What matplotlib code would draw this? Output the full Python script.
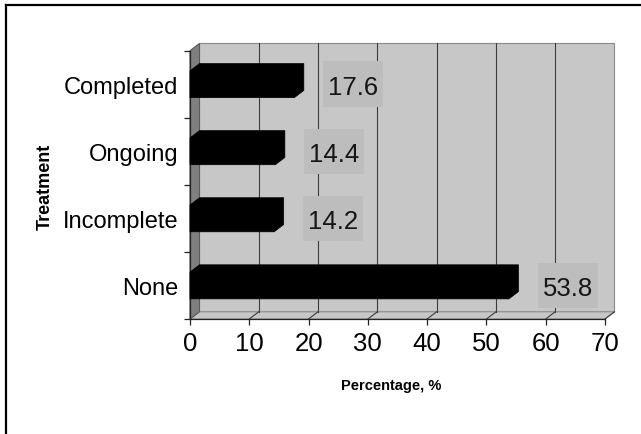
import matplotlib
matplotlib.use("Agg")
import matplotlib.pyplot as plt
from matplotlib.patches import Polygon, Rectangle
from matplotlib.lines import Line2D

# Data
categories = ["None", "Incomplete", "Ongoing", "Completed"]
percentages = [53.8, 14.2, 14.4, 17.6]
x_ticks = [0, 10, 20, 30, 40, 50, 60, 70]
x_label = "Percentage, %"
y_label = "Treatment"

plt.rcParams["font.family"] = ["Liberation Sans", "DejaVu Sans"]

W, H = 641, 435
fig = plt.figure(figsize=(W / 100, H / 100), dpi=100)
fig.patch.set_facecolor("white")

# front plane of the plot area, in pixels
left_px, right_px, top_px, bottom_px = 190, 605, 51.7, 320
ax = fig.add_axes([left_px / W, 1 - bottom_px / H,
                   (right_px - left_px) / W, (bottom_px - top_px) / H])
ax.patch.set_visible(False)

xmin, xmax = x_ticks[0], x_ticks[-1]
ymin, ymax = -0.5, len(categories) - 0.5
ax.set_xlim(xmin, xmax)
ax.set_ylim(ymin, ymax)

# depth of the pseudo-3D box, in data units
dx, dy = 1.6, 0.108

wall_c = "#c7c7c7"
edge_c = "#8a8a8a"
grid_c = "#3c3c3c"

# back wall
ax.add_patch(Polygon([(xmin + dx, ymin + dy), (xmax + dx, ymin + dy),
                      (xmax + dx, ymax + dy), (xmin + dx, ymax + dy)],
                     closed=True, fc=wall_c, ec=edge_c, lw=0.8,
                     clip_on=False, zorder=1))
# floor
ax.add_patch(Polygon([(xmin, ymin), (xmax, ymin),
                      (xmax + dx, ymin + dy), (xmin + dx, ymin + dy)],
                     closed=True, fc=wall_c, ec=edge_c, lw=0.8,
                     clip_on=False, zorder=1))
# side wall
ax.add_patch(Polygon([(xmin, ymin), (xmin + dx, ymin + dy),
                      (xmin + dx, ymax + dy), (xmin, ymax)],
                     closed=True, fc="#7f7f7f", ec="#5a5a5a", lw=0.8,
                     clip_on=False, zorder=1.5))

# gridlines on wall and floor
for t in x_ticks[1:-1]:
    ax.add_line(Line2D([t + dx, t + dx], [ymin + dy, ymax + dy],
                       color=grid_c, lw=0.8, clip_on=False, zorder=1.2))
for t in x_ticks[1:]:
    ax.add_line(Line2D([t, t + dx], [ymin, ymin + dy],
                       color=grid_c, lw=0.8, clip_on=False, zorder=1.2))

# bars as solid blocks, with boxed value labels
bar_h = 0.40
lab_off, lab_w, lab_h = 9.95, 10.1, 0.68
for i, v in enumerate(percentages):
    y0, y1 = i - bar_h / 2, i + bar_h / 2
    ax.add_patch(Polygon([(xmin, y0), (v, y0), (v + dx, y0 + dy),
                          (v + dx, y1 + dy), (xmin + dx, y1 + dy),
                          (xmin, y1)],
                         closed=True, fc="black", ec="black", lw=0.5,
                         clip_on=False, zorder=3))
    cx = v + lab_off
    ax.add_patch(Rectangle((cx - lab_w / 2, i - lab_h / 2), lab_w, lab_h,
                           fc="#bdbdbd", ec="none", clip_on=False, zorder=3.5))
    ax.text(cx, i, f"{v:.1f}", ha="center", va="center_baseline",
            fontsize=18.5, color="#151515", zorder=4)

# axes lines and ticks
for side in ("top", "right"):
    ax.spines[side].set_visible(False)
for side in ("left", "bottom"):
    ax.spines[side].set_color("#222222")
    ax.spines[side].set_linewidth(0.9)
    ax.spines[side].set_zorder(2)

ax.set_xticks(x_ticks)
ax.set_xticklabels([str(t) for t in x_ticks])
ax.tick_params(axis="x", which="major", length=4, width=0.9,
               color="#222222", labelsize=18.5, pad=4.5, direction="out")

ax.set_yticks([k - 0.5 for k in range(len(categories) + 1)])
ax.set_yticklabels([])
ax.set_yticks(range(len(categories)), minor=True)
ax.set_yticklabels(categories, minor=True)
ax.tick_params(axis="y", which="major", length=4, width=0.9,
               color="#222222", direction="out")
ax.tick_params(axis="y", which="minor", length=0, labelsize=17, pad=8.5)

# axis titles
fig.text(391 / W, 1 - 386 / H, x_label, ha="center", va="center",
         fontsize=10.5, fontweight="bold")
fig.text(45 / W, 1 - 187 / H, y_label, ha="center", va="center",
         rotation=90, fontsize=13, fontweight="bold")

# outer frame (left and top edges)
fig.add_artist(Line2D([6 / W, 6 / W], [0, 1 - 6 / H], transform=fig.transFigure,
                      color="black", lw=1.6))
fig.add_artist(Line2D([6 / W, 1], [1 - 6 / H, 1 - 6 / H],
                      transform=fig.transFigure, color="black", lw=1.6))

fig.savefig("out.png", dpi=100, facecolor="white")
